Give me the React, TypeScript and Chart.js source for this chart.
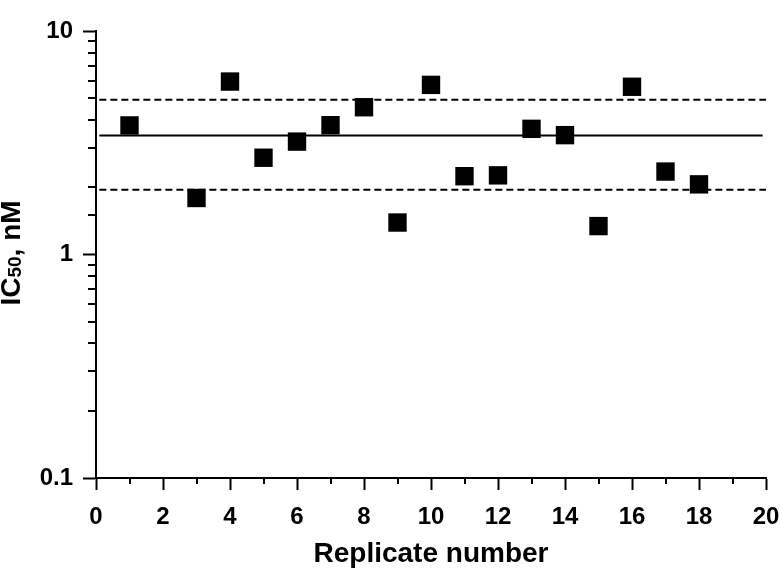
import React, { useEffect, useRef } from 'react';
import { Chart, registerables } from 'chart.js';

Chart.register(...registerables);

// ---- data ----
const replicates = [1, 3, 4, 5, 6, 7, 8, 9, 10, 11, 12, 13, 14, 15, 16, 17, 18];
const ic50Values = [3.78, 1.79, 5.94, 2.71, 3.2, 3.79, 4.56, 1.39, 5.74, 2.24, 2.26, 3.65, 3.42, 1.34, 5.63, 2.35, 2.06];
const meanValue = 3.41;
const upperLimit = 4.92;
const lowerLimit = 1.95;
const meanLineX = [0.1, 19.9];
const limitLineX = [0.1, 20];
const xMin = 0;
const xMax = 20;
const yMin = 0.1;
const yMax = 10;
const xTitle = 'Replicate number';
const yTitleMain = 'IC';
const yTitleSub = '50';
const yTitleTail = ', nM';

const FONT = '"Liberation Sans", Arial, Helvetica, sans-serif';

const isDecade = (v: number) => {
  const l = Math.log10(v);
  return Math.abs(l - Math.round(l)) < 1e-6;
};

const extrasPlugin = {
  id: 'extras',
  afterDraw(chart: any) {
    const ctx = chart.ctx;
    const xs = chart.scales.x;
    const ys = chart.scales.y;
    ctx.save();
    ctx.strokeStyle = '#000';
    ctx.lineWidth = 2;
    // minor y ticks
    ys.ticks.forEach((t: any) => {
      if (!isDecade(t.value)) {
        const py = Math.round(ys.getPixelForValue(t.value));
        ctx.beginPath();
        ctx.moveTo(ys.right - 8, py);
        ctx.lineTo(ys.right, py);
        ctx.stroke();
      }
    });
    // minor x ticks
    xs.ticks.forEach((t: any) => {
      if (t.value % 2 !== 0) {
        const px = Math.round(xs.getPixelForValue(t.value));
        ctx.beginPath();
        ctx.moveTo(px, xs.top);
        ctx.lineTo(px, xs.top + 6);
        ctx.stroke();
      }
    });
    // y title with subscript
    ctx.fillStyle = '#000';
    ctx.translate(20, 253);
    ctx.rotate(-Math.PI / 2);
    ctx.textBaseline = 'alphabetic';
    ctx.textAlign = 'left';
    const big = `bold 28px ${FONT}`;
    const small = `bold 19px ${FONT}`;
    ctx.font = big;
    const w1 = ctx.measureText(yTitleMain).width;
    const w3 = ctx.measureText(yTitleTail).width;
    ctx.font = small;
    const w2 = ctx.measureText(yTitleSub).width;
    const start = -(w1 + w2 + w3) / 2;
    ctx.font = big;
    ctx.fillText(yTitleMain, start, 0);
    ctx.font = small;
    ctx.fillText(yTitleSub, start + w1, 1);
    ctx.font = big;
    ctx.fillText(yTitleTail, start + w1 + w2, 0);
    ctx.restore();
  },
};

export default function App() {
  const canvasRef = useRef<HTMLCanvasElement | null>(null);

  useEffect(() => {
    if (!canvasRef.current) return;
    const chart = new Chart(canvasRef.current, {
      type: 'scatter',
      data: {
        datasets: [
          {
            label: 'IC50',
            data: replicates.map((x, i) => ({ x, y: ic50Values[i] })),
            pointStyle: 'rect',
            pointRadius: 13,
            pointHoverRadius: 13,
            pointBorderWidth: 0,
            backgroundColor: '#000',
            borderColor: '#000',
            showLine: false,
          },
          {
            label: 'Mean',
            type: 'line',
            data: meanLineX.map((x) => ({ x, y: meanValue })),
            borderColor: '#000',
            borderWidth: 2,
            pointRadius: 0,
            fill: false,
          },
          {
            label: 'Upper',
            type: 'line',
            data: limitLineX.map((x) => ({ x, y: upperLimit })),
            borderColor: '#000',
            borderWidth: 2,
            borderDash: [7, 4],
            pointRadius: 0,
            fill: false,
          },
          {
            label: 'Lower',
            type: 'line',
            data: limitLineX.map((x) => ({ x, y: lowerLimit })),
            borderColor: '#000',
            borderWidth: 2,
            borderDash: [7, 4],
            pointRadius: 0,
            fill: false,
          },
        ] as any,
      },
      options: {
        animation: false,
        responsive: false,
        maintainAspectRatio: false,
        layout: { padding: { top: 31, right: 16, left: 0, bottom: 0 } },
        plugins: {
          legend: { display: false },
          tooltip: { enabled: false },
        },
        scales: {
          x: {
            type: 'linear',
            min: xMin,
            max: xMax,
            afterFit: (s: any) => {
              s.height = 98;
              s.paddingLeft = 0;
              s.paddingRight = 0;
            },
            ticks: {
              stepSize: 1,
              autoSkip: false,
              maxRotation: 0,
              color: '#000',
              padding: 13,
              font: { family: FONT, size: 24, weight: 'bold' },
              callback: (v: any) => (Number(v) % 2 === 0 ? String(v) : ''),
            },
            grid: {
              display: true,
              drawOnChartArea: false,
              drawTicks: true,
              tickLength: 12,
              tickWidth: 2,
              tickColor: (c: any) => (c.tick && c.tick.value % 2 === 0 ? '#000' : 'rgba(0,0,0,0)'),
            },
            border: { display: true, color: '#000', width: 2 },
            title: {
              display: true,
              text: xTitle,
              color: '#000',
              font: { family: FONT, size: 28, weight: 'bold' },
              padding: { top: 0, bottom: 5 },
            },
          },
          y: {
            type: 'logarithmic',
            min: yMin,
            max: yMax,
            afterFit: (s: any) => {
              s.width = 96;
              s.paddingTop = 0;
              s.paddingBottom = 0;
            },
            ticks: {
              autoSkip: false,
              color: '#000',
              padding: 10,
              font: { family: FONT, size: 24, weight: 'bold' },
              callback: (v: any) => (isDecade(Number(v)) ? String(Number(v)) : ''),
            },
            grid: {
              display: true,
              drawOnChartArea: false,
              drawTicks: true,
              tickLength: 13,
              tickWidth: 2,
              tickColor: (c: any) => (c.tick && isDecade(c.tick.value) ? '#000' : 'rgba(0,0,0,0)'),
            },
            border: { display: true, color: '#000', width: 2 },
          },
        },
      } as any,
      plugins: [extrasPlugin],
    });
    return () => chart.destroy();
  }, []);

  return (
    <div style={{ position: 'absolute', left: 0, top: 0, width: 782, height: 576, background: '#fff' }}>
      <canvas ref={canvasRef} width={782} height={576} style={{ width: 782, height: 576 }} />
    </div>
  );
}
